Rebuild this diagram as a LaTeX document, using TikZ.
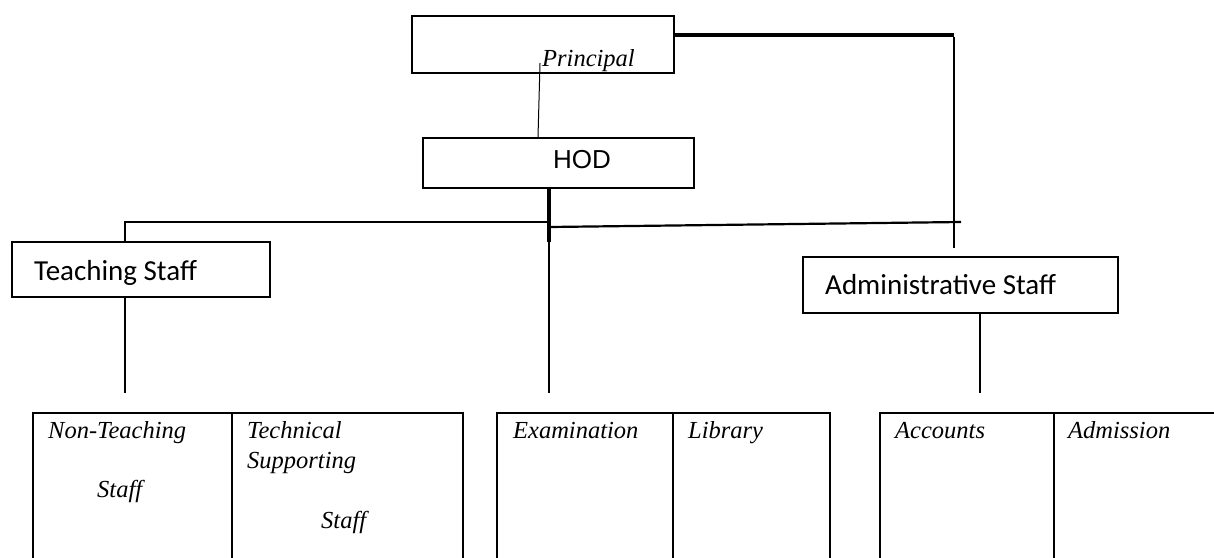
\documentclass[tikz,border=0pt]{standalone}
\usepackage{fontspec}
\setmainfont{Liberation Serif}
\newfontfamily\calibrifont{Carlito}
\newfontfamily\arialfont{Liberation Sans}
\tikzstyle{orgbox} = [rectangle, draw=black, line width=2.2pt, inner sep=0pt]
\tikzstyle{cellbox} = [rectangle, draw=black, line width=2pt, inner sep=0pt, minimum height=160pt]
\tikzstyle{italiclabel} = [anchor=base west, inner sep=0pt, font=\fontsize{24.5}{28}\selectfont\itshape]
\tikzstyle{sanslabel} = [anchor=base west, inner sep=0pt, font=\calibrifont\fontsize{29}{34}\selectfont]
\tikzstyle{heavyline} = [line width=3.6pt]
\tikzstyle{plainline} = [line width=2.2pt]
\tikzstyle{thinline} = [line width=1pt]

\begin{document}
\begin{tikzpicture}[x=1pt, y=-1pt]
    \useasboundingbox (0,0) rectangle (1214,557);
    \clip (0,0) rectangle (1214,557);

    % Nodes
    \node (principal) [orgbox, minimum width=262pt, minimum height=57pt] at (543,44.5) {};
    \node (hod) [orgbox, minimum width=271pt, minimum height=50pt] at (558.5,163) {};
    \node (teaching) [orgbox, minimum width=258pt, minimum height=55pt] at (141,269.5) {};
    \node (admin) [orgbox, minimum width=315pt, minimum height=56pt] at (960.5,285) {};

    \node (nonteach) [cellbox, minimum width=199pt] at (132.5,493) {};
    \node (techsup) [cellbox, minimum width=231pt] at (347.5,493) {};
    \node (exam) [cellbox, minimum width=176pt] at (585,493) {};
    \node (library) [cellbox, minimum width=157pt] at (751.5,493) {};
    \node (accounts) [cellbox, minimum width=174pt] at (967,493) {};
    \node (admission) [cellbox, minimum width=200pt] at (1154,493) {};

    % Lines
    \coordinate (pcorner) at (954,35);
    \coordinate (pend) at (954,248);
    \coordinate (pdrop) at (540,63);
    \coordinate (hodjoin) at (549,242);
    \coordinate (hodmid) at (549,227);
    \coordinate (hodend) at (549,393);
    \coordinate (tcorner) at (125,222);
    \coordinate (tend) at (125,393);
    \coordinate (aend) at (961,222);
    \coordinate (adminend) at (980,393);

    \draw [heavyline] (principal.east |- pcorner) -- (pcorner);
    \draw [line width=2.6pt] ([yshift=-1.5pt]pcorner) -- (pend);
    \draw [thinline] (pdrop) -- ([xshift=-20.5pt]hod.north);
    \draw [heavyline] (hodjoin |- hod.south) -- (hodjoin);
    \draw [plainline] (hodjoin) -- (hodend);
    \draw [plainline] (hodjoin |- tcorner) -- (tcorner) -- (tcorner |- teaching.north);
    \draw [plainline] (hodmid) -- (aend);
    \draw [plainline] (tend |- teaching.south) -- (tend);
    \draw [plainline] (adminend |- admin.south) -- (adminend);

    % Labels
    \node (principallabel) [italiclabel] at (542,66) {Principal};
    \node (hodlabel) [anchor=base west, inner sep=0pt, font=\arialfont\fontsize{26}{30}\selectfont] at (553,168) {HOD};
    \node (teachinglabel) [sanslabel] at (34,280) {Teaching Staff};
    \node (adminlabel) [sanslabel] at (825,294) {Administrative Staff};

    \node (ntlabel) [italiclabel] at (48,438) {Non-Teaching};
    \node (ntstaff) [italiclabel] at (97,497) {Staff};
    \node (tslabel) [italiclabel] at (247,438) {Technical};
    \node (tssupport) [italiclabel] at (247,468) {Supporting};
    \node (tsstaff) [italiclabel] at (321,528) {Staff};
    \node (examlabel) [italiclabel] at (513,438) {Examination};
    \node (librarylabel) [italiclabel] at (688,438) {Library};
    \node (accountslabel) [italiclabel] at (895,438) {Accounts};
    \node (admissionlabel) [italiclabel] at (1068,438) {Admission};

\end{tikzpicture}
\end{document}
